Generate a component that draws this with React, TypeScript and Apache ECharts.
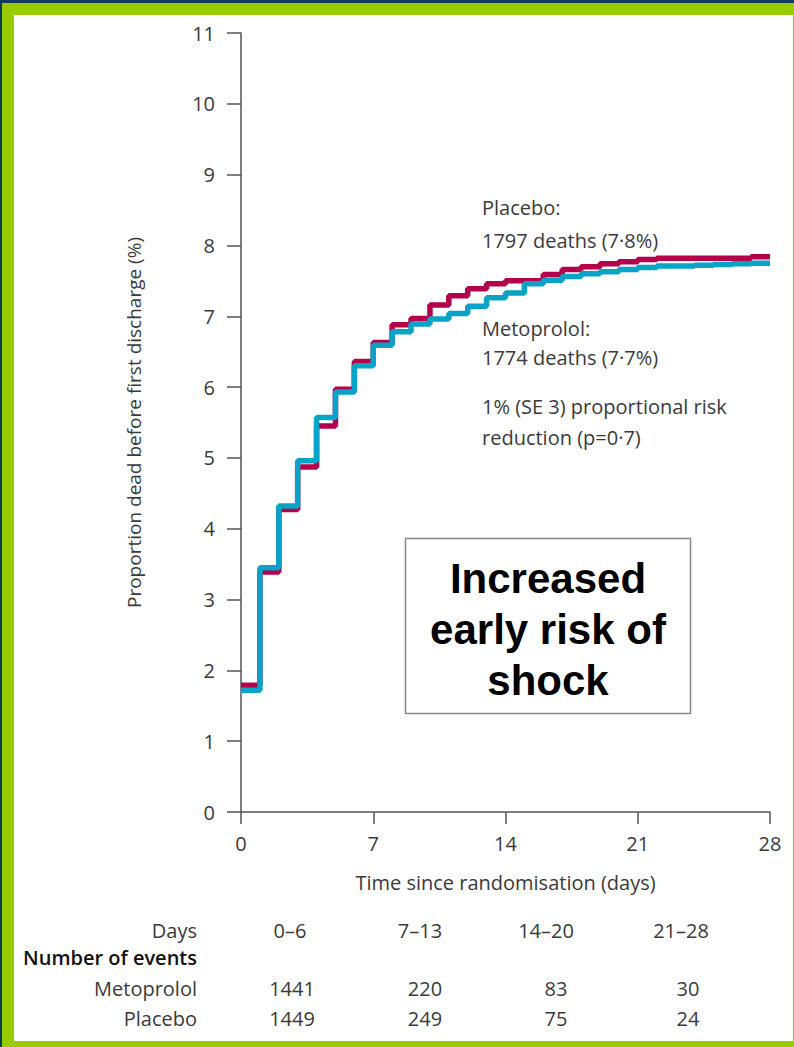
import React, { useEffect, useRef } from "react";
import * as echarts from "echarts";

const dayPoints = [0, 1, 2, 3, 4, 5, 6, 7, 8, 9, 10, 11, 12, 13, 14, 15, 16, 17, 18, 19, 20, 21, 22, 23, 24, 25, 26, 27, 28];
const placeboPct = [1.79, 3.39, 4.27, 4.87, 5.45, 5.97, 6.36, 6.63, 6.88, 6.97, 7.16, 7.29, 7.39, 7.46, 7.5, 7.5, 7.59, 7.66, 7.7, 7.74, 7.77, 7.8, 7.82, 7.82, 7.82, 7.82, 7.82, 7.84, 7.84];
const metoprololPct = [1.72, 3.45, 4.32, 4.96, 5.57, 5.93, 6.3, 6.59, 6.78, 6.89, 6.96, 7.04, 7.14, 7.26, 7.33, 7.46, 7.51, 7.56, 7.6, 7.63, 7.66, 7.69, 7.71, 7.71, 7.72, 7.73, 7.74, 7.75, 7.75];

const periodLabels = ["0–6", "7–13", "14–20", "21–28"];
const metoprololEvents = ["1441", "220", "83", "30"];
const placeboEvents = ["1449", "249", "75", "24"];

const annotationLines = ["Placebo:", "1797 deaths (7·8%)", "Metoprolol:", "1774 deaths (7·7%)", "1% (SE 3) proportional risk", "reduction (p=0·7)"];
const boxLines = ["Increased", "early risk of", "shock"];

const FONT = "'Open Sans', 'Noto Sans', sans-serif";
const TXT = "#3a3a3a";
const FS = 20;

export default function App() {
  const ref = useRef<HTMLDivElement>(null);
  useEffect(() => {
    if (!ref.current) return;
    const chart = echarts.init(ref.current, undefined, { renderer: "svg" });
    const annY = [207, 240, 328, 357, 406, 437];
    const headX = [290, 420, 546, 681];
    const numX = [292, 425, 556, 688];
    const graphic: any[] = [];
    annotationLines.forEach((t, i) => {
      graphic.push({ type: "text", x: 482, y: annY[i], style: { text: t, fill: TXT, font: `${FS}px ${FONT}`, align: "left", verticalAlign: "middle" } });
    });
    graphic.push({ type: "rect", shape: { x: 405.5, y: 538.5, width: 285, height: 175 }, style: { fill: "#fff", stroke: "#888", lineWidth: 1.5 } });
    boxLines.forEach((t, i) => {
      graphic.push({ type: "text", x: 548, y: 578 + i * 51, style: { text: t, fill: "#000", font: `bold 42px 'Liberation Sans', Arial, sans-serif`, align: "center", verticalAlign: "middle" } });
    });
    graphic.push({ type: "text", x: 197, y: 930, style: { text: "Days", fill: TXT, font: `${FS}px ${FONT}`, align: "right", verticalAlign: "middle" } });
    graphic.push({ type: "text", x: 197, y: 957, style: { text: "Number of events", fill: "#111", font: `600 ${FS}px ${FONT}`, align: "right", verticalAlign: "middle" } });
    graphic.push({ type: "text", x: 197, y: 988, style: { text: "Metoprolol", fill: TXT, font: `${FS}px ${FONT}`, align: "right", verticalAlign: "middle" } });
    graphic.push({ type: "text", x: 197, y: 1018, style: { text: "Placebo", fill: TXT, font: `${FS}px ${FONT}`, align: "right", verticalAlign: "middle" } });
    periodLabels.forEach((t, i) => {
      graphic.push({ type: "text", x: headX[i], y: 930, style: { text: t, fill: TXT, font: `${FS}px ${FONT}`, align: "center", verticalAlign: "middle" } });
    });
    metoprololEvents.forEach((t, i) => {
      graphic.push({ type: "text", x: numX[i], y: 988, style: { text: t, fill: TXT, font: `${FS}px ${FONT}`, align: "center", verticalAlign: "middle" } });
    });
    placeboEvents.forEach((t, i) => {
      graphic.push({ type: "text", x: numX[i], y: 1018, style: { text: t, fill: TXT, font: `${FS}px ${FONT}`, align: "center", verticalAlign: "middle" } });
    });

    chart.setOption({
      animation: false,
      backgroundColor: "transparent",
      grid: { left: 241, right: 24, top: 33, bottom: 235 },
      xAxis: {
        type: "value", min: 0, max: 28, interval: 7,
        name: "Time since randomisation (days)", nameLocation: "middle", nameGap: 60,
        nameTextStyle: { color: TXT, fontFamily: FONT, fontSize: FS },
        axisLine: { lineStyle: { color: "#555", width: 1.5 } },
        axisTick: { length: 12, lineStyle: { color: "#555", width: 1.5 } },
        axisLabel: { color: TXT, fontFamily: FONT, fontSize: FS, margin: 21 },
        splitLine: { show: false },
      },
      yAxis: {
        type: "value", min: 0, max: 11, interval: 1,
        name: "Proportion dead before first discharge (%)", nameLocation: "middle", nameGap: 98, nameRotate: 90,
        nameTextStyle: { color: TXT, fontFamily: FONT, fontSize: 19 },
        axisLine: { show: true, lineStyle: { color: "#555", width: 1.5 } },
        axisTick: { show: true, length: 14, lineStyle: { color: "#555", width: 1.5 } },
        axisLabel: { color: TXT, fontFamily: FONT, fontSize: FS, margin: 26 },
        splitLine: { show: false },
      },
      series: [
        {
          name: "Placebo", type: "line", step: "end", showSymbol: false,
          data: dayPoints.map((d, i) => [d, placeboPct[i]]),
          lineStyle: { color: "#b5004b", width: 5.5 }, itemStyle: { color: "#b5004b" },
        },
        {
          name: "Metoprolol", type: "line", step: "end", showSymbol: false,
          data: dayPoints.map((d, i) => [d, metoprololPct[i]]),
          lineStyle: { color: "#0aa3c8", width: 5.5 }, itemStyle: { color: "#0aa3c8" },
        },
      ],
      graphic,
    });
    return () => chart.dispose();
  }, []);

  return (
    <div style={{ position: "absolute", left: 0, top: 0, width: 794, height: 1047, background: "#0e3b5e", overflow: "hidden" }}>
      <div style={{ position: "absolute", left: 2, top: 3, width: 792, height: 1044, background: "#99cc00" }} />
      <div style={{ position: "absolute", left: 14, top: 15, width: 779, height: 1026, background: "#ffffff" }} />
      <div ref={ref} style={{ position: "absolute", left: 0, top: 0, width: 794, height: 1047 }} />
    </div>
  );
}
